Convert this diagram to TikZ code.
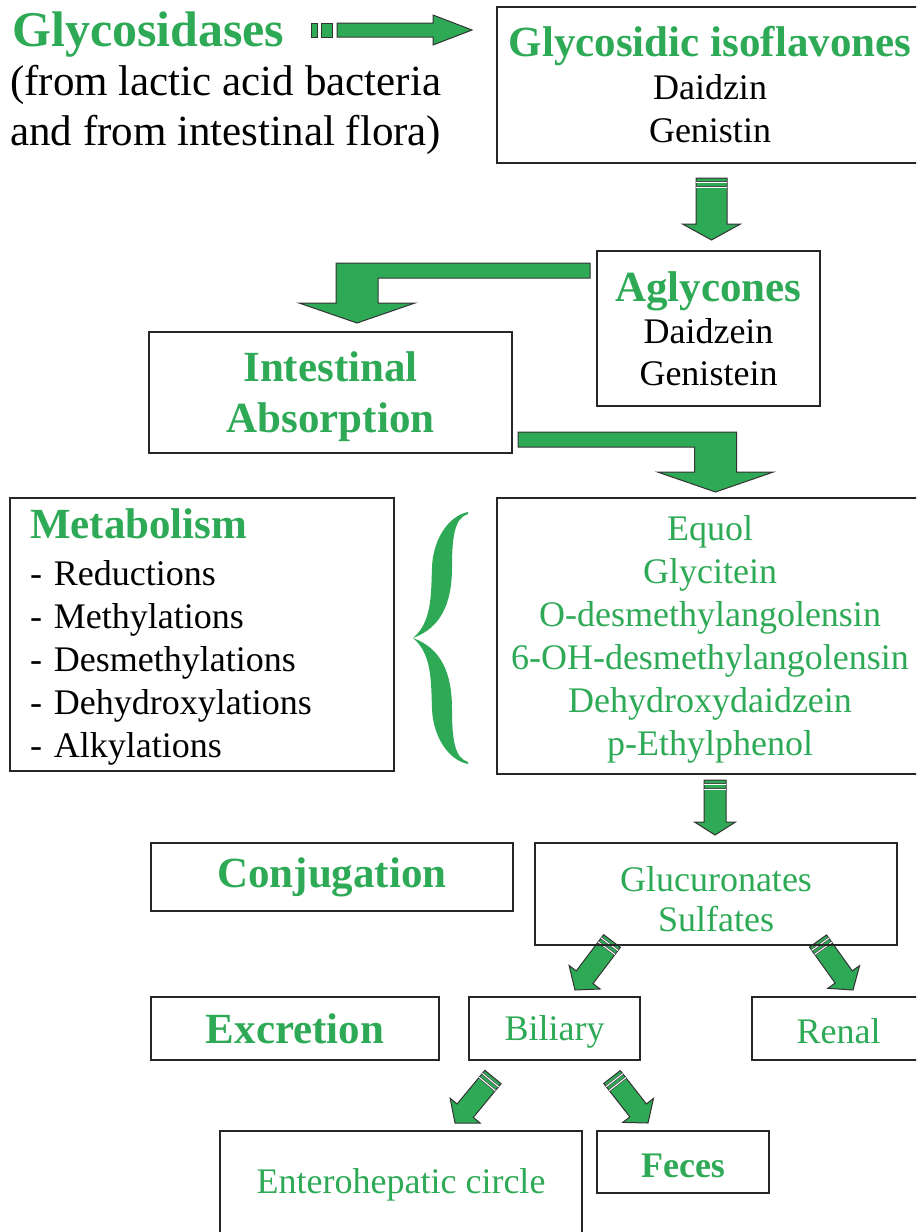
\documentclass[tikz,border=0pt]{standalone}
\usepackage{fontspec}
\setmainfont{Liberation Serif}
\usetikzlibrary{calc,backgrounds}
\definecolor{leafgreen}{RGB}{46,170,86}
\newcommand{\bodyfont}{\fontsize{36}{43}\selectfont}
\newcommand{\headfont}{\fontsize{43}{43}\selectfont\bfseries}
\newcommand{\topgap}[1]{\rule{0pt}{#1}}
% straight block arrow: tail, tip, half shaft, half head, head length
\newcommand{\blockarrow}[5]{%
  \coordinate (ah) at ($(#2)!#5!(#1)$);
  \filldraw[fatarrow] ($(#1)!#3!90:(#2)$) -- ($(ah)!#3!90:(#2)$) -- ($(ah)!#4!90:(#2)$) -- (#2)
    -- ($(ah)!#4!-90:(#2)$) -- ($(ah)!#3!-90:(#2)$) -- ($(#1)!#3!-90:(#2)$) -- cycle;
}
\newcommand{\tailstripes}[3]{%
  \coordinate (as1) at ($(#1)!4pt!(#2)$);
  \coordinate (as2) at ($(#1)!9pt!(#2)$);
  \draw[stripe] ($(as1)!#3!90:(#2)$) -- ($(as1)!#3!-90:(#2)$);
  \draw[stripe] ($(as2)!#3!90:(#2)$) -- ($(as2)!#3!-90:(#2)$);
}
% bent block arrow: tail, tip, side (1 right, -1 left)
\newcommand{\bentarrow}[3]{%
  \filldraw[fatarrow] ($(#1)+(0,-7.5)$) -- ($(#2 |- #1)+({(#3)*21},-7.5)$) -- ($(#2)+({(#3)*21},-20)$)
    -- ($(#2)+({(#3)*58},-20)$) -- (#2) -- ($(#2)+({-(#3)*58},-20)$) -- ($(#2)+({-(#3)*21},-20)$)
    -- ($(#2 |- #1)+({-(#3)*21},7.5)$) -- ($(#1)+(0,7.5)$) -- cycle;
}

\begin{document}
\begin{tikzpicture}[x=1pt, y=-1pt,
    box/.style={rectangle, draw=black!85, line width=1.6pt, align=center, inner sep=0pt, font=\bodyfont},
    greenhead/.style={font=\headfont, text=leafgreen},
    fatarrow/.style={fill=leafgreen, draw=black!80, line width=1pt},
    stripe/.style={draw=black!70, line width=0.7pt, double=white, double distance=1pt}]
    \useasboundingbox (0,0) rectangle (916,1232);
    \clip (0,0) rectangle (916,1232);

    \node[anchor=base west, inner sep=0pt, font=\fontsize{50}{50}\selectfont\bfseries, text=leafgreen] (enzymes) at (12,46) {Glycosidases};
    \node[anchor=north west, inner sep=0pt, align=left, font=\fontsize{43}{50}\selectfont] (source) at (10,65) {(from lactic acid bacteria\\and from intestinal flora)};

    \node[box, minimum width=426pt, minimum height=156pt] (glyc) at (710,85) {{\headfont\color{leafgreen}Glycosidic isoflavones}\\Daidzin\\Genistin};
    \node[box, minimum width=223pt, minimum height=155pt] (agly) at (708.5,328.5) {{\headfont\color{leafgreen}Aglycones}\\[-1pt]Daidzein\\[-1pt]Genistein};
    \node[box, greenhead, minimum width=363pt, minimum height=121pt] (absorb) at (330.5,392.5) {\topgap{38pt}Intestinal\\[8pt]Absorption};
    \node[box, align=left, text width=344pt, inner xsep=20pt, minimum height=273pt] (metab) at (202,634.5) {{\headfont\topgap{35pt}\color{leafgreen}Metabolism}\\[4pt]- Reductions\\- Methylations\\- Desmethylations\\- Dehydroxylations\\- Alkylations};
    \node[box, text=leafgreen, minimum width=426pt, minimum height=276pt] (products) at (710,636) {\topgap{31.5pt}Equol\\Glycitein\\O-desmethylangolensin\\6-OH-desmethylangolensin\\Dehydroxydaidzein\\p-Ethylphenol};
    \node[box, greenhead, minimum width=362pt, minimum height=68pt] (conj) at (332,877) {Conjugation};
    \node[box, text=leafgreen, minimum width=362pt, minimum height=102pt] (conjugates) at (716,894) {\topgap{34.5pt}Glucuronates\\[-3pt]Sulfates};
    \node[box, greenhead, minimum width=288pt, minimum height=63pt] (excr) at (295,1028.5) {Excretion};
    \node[box, text=leafgreen, minimum width=171pt, minimum height=63pt] (biliary) at (554.5,1028.5) {\topgap{32.5pt}Biliary};
    \node[box, text=leafgreen, minimum width=173pt, minimum height=63pt] (renal) at (838.5,1028.5) {\topgap{30.5pt}Renal};
    \node[box, text=leafgreen, minimum width=362pt, minimum height=108pt] (entero) at (401,1185) {Enterohepatic circle};
    \node[box, text=leafgreen, font=\bodyfont\bfseries, minimum width=172pt, minimum height=62pt] (feces) at (683,1162) {\topgap{31.5pt}Feces};

    % brace
    \fill[leafgreen] (468,512) .. controls (448,516) and (433,540) .. (432,567) .. controls (431,595) and (432,622) .. (413,638)
        .. controls (440,628) and (452,605) .. (452,567) .. controls (452,535) and (455,518) .. (468,514) -- cycle;
    \fill[leafgreen] (468,764) .. controls (448,760) and (433,736) .. (432,709) .. controls (431,681) and (432,654) .. (413,638)
        .. controls (440,648) and (452,671) .. (452,709) .. controls (452,741) and (455,758) .. (468,762) -- cycle;

    \coordinate (e1) at (337,30);
    \coordinate (e2) at (472,30);
    \coordinate (a1) at (711.5,178);
    \coordinate (a2) at (711.5,240);
    \coordinate (b1) at (590,270.5);
    \coordinate (b2) at (357,323);
    \coordinate (c1) at (518,439.5);
    \coordinate (c2) at (715.5,492);
    \coordinate (m1) at (715,780);
    \coordinate (m2) at (715,835);
    \coordinate (s1) at (612,941);
    \coordinate (s2) at (575,990);
    \coordinate (r1) at (818,941);
    \coordinate (r2) at (853,990);
    \coordinate (h1) at (493,1077);
    \coordinate (h2) at (455,1123);
    \coordinate (f1) at (612,1077);
    \coordinate (f2) at (648,1123);

    \begin{pgfonlayer}{background}
        \filldraw[fatarrow] (311,23) rectangle (317,37);
        \filldraw[fatarrow] (321,23) rectangle (332,37);
        \blockarrow{e1}{e2}{7pt}{15pt}{39pt}
        \blockarrow{a1}{a2}{15.5pt}{29pt}{16pt}
        \tailstripes{a1}{a2}{15.5pt}
        \bentarrow{b1}{b2}{-1}
        \bentarrow{c1}{c2}{1}
        \blockarrow{m1}{m2}{11pt}{20.5pt}{13pt}
        \tailstripes{m1}{m2}{11pt}
        \foreach \u/\v in {s1/s2, r1/r2, h1/h2, f1/f2} {
            \blockarrow{\u}{\v}{10.5pt}{19.5pt}{16pt}
            \tailstripes{\u}{\v}{10.5pt}
        }
    \end{pgfonlayer}
\end{tikzpicture}
\end{document}
